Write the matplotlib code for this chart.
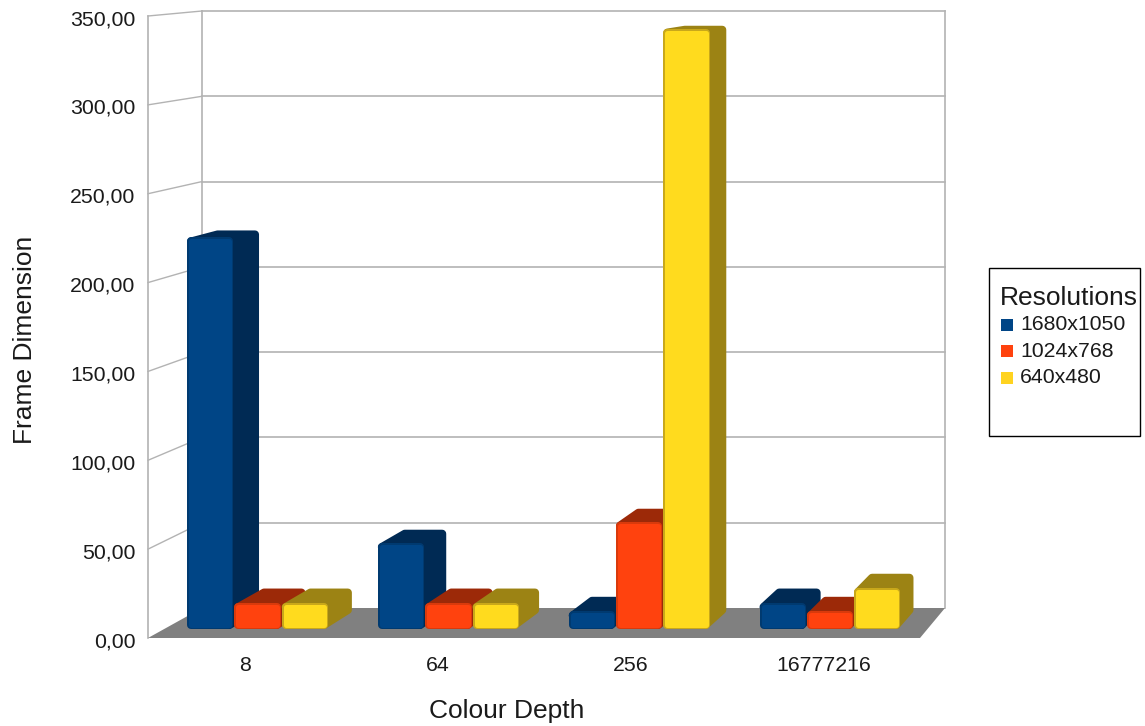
import numpy as np
from matplotlib import pyplot as plt
from matplotlib.patches import Polygon, Rectangle
from matplotlib.transforms import ScaledTranslation

plt.rcParams['font.family'] = ['Liberation Sans', 'DejaVu Sans']

categories = ['8', '64', '256', '16777216']
series_names = ['1680x1050', '1024x768', '640x480']
values_1680 = [223.0, 49.0, 10.0, 14.8]
values_1024 = [14.8, 14.8, 61.2, 10.0]
values_640 = [14.8, 14.8, 342.0, 23.4]
y_ticks = [0, 50, 100, 150, 200, 250, 300, 350]

front_colors = ['#004586', '#ff420e', '#ffdb1e']
legend_colors = ['#004586', '#ff420e', '#ffd320']
edge_colors = ['#003a70', '#d93a0c', '#c9a81a']
body_colors = ['#002a54', '#9c2908', '#9c8314']
grid_color = '#b3b3b3'
floor_color = '#808080'
text_color = '#1a1a1a'

W, H = 1145, 726
AX_LEFT, AX_RIGHT, AX_TOP, AX_BOTTOM = 148, 920, 16, 638
BAR_WIDTH = 0.248
GROUP_PAD = 0.117
DEPTH_FRONT, DEPTH_BACK = 0.3, 0.8
Y_MAX = 350.0
CORNER_PX = 4.0
PX_X = 4 / (AX_RIGHT - AX_LEFT)
PX_Y = Y_MAX / (AX_BOTTOM - AX_TOP)


def project(x, v, d):
    # oblique perspective: d=0 is the front plane of the box, d=1 the back wall
    px = 54 * d + x / 4 * (772 - 29 * d)
    py = 30 * d + v / Y_MAX * (622 - 25 * d)
    return px * PX_X, py * PX_Y


def rounded(ax, pts, color, lw_px, zorder):
    # a thick round-joined stroke around an inset outline gives the soft corners
    ax.add_patch(Polygon(pts, closed=True, facecolor=color, edgecolor=color, linewidth=lw_px * 0.72,
                         joinstyle='round', clip_on=False, zorder=zorder))


def draw_bar(ax, x0, value, i, zorder):
    x1 = x0 + BAR_WIDTH
    df, db = DEPTH_FRONT, DEPTH_BACK
    ix, iy = (CORNER_PX + 0.5) * PX_X, CORNER_PX * PX_Y

    # side and top share one dark silhouette
    hull = [project(x0, value, df), project(x0, value, db), project(x1, value, db), project(x1, 0, db),
            project(x1, 0, df)]
    signs = [(1, -1), (1, -1), (-1, -1), (-1, 1), (-1, 1)]
    hull = [(p[0] + s[0] * ix, p[1] + s[1] * iy) for p, s in zip(hull, signs)]
    rounded(ax, hull, body_colors[i], 2 * CORNER_PX, zorder)

    a = project(x0, 0, df)
    b = project(x1, value, df)
    front = [(a[0] + ix, a[1] + iy), (b[0] - ix, a[1] + iy), (b[0] - ix, b[1] - iy), (a[0] + ix, b[1] - iy)]
    rounded(ax, front, edge_colors[i], 2 * CORNER_PX, zorder + 0.01)
    rounded(ax, front, front_colors[i], 2 * CORNER_PX - 3, zorder + 0.02)


def draw_box(ax):
    # floor, back wall and side wall with their gridlines
    floor = [project(0, 0, 0), project(4, 0, 0), project(4, 0, 1), project(0, 0, 1)]
    ax.add_patch(Polygon(floor, closed=True, facecolor=floor_color, edgecolor='none', clip_on=False, zorder=1))
    for t in y_ticks:
        back_l, back_r = project(0, t, 1), project(4, t, 1)
        front_l = project(0, t, 0)
        if t > 0:
            ax.plot([back_l[0], back_r[0]], [back_l[1], back_r[1]], color=grid_color, lw=1.2, clip_on=False, zorder=0)
            ax.plot([front_l[0], back_l[0]], [front_l[1], back_l[1]], color=grid_color, lw=1.0, clip_on=False, zorder=0)
    for x, d in [(0, 0), (0, 1), (4, 1)]:
        a, b = project(x, 0, d), project(x, Y_MAX, d)
        ax.plot([a[0], b[0]], [a[1], b[1]], color=grid_color, lw=1.2, clip_on=False, zorder=0)


def draw_legend(fig):
    to_fig = lambda px, py: (px / W, 1 - py / H)
    x, y = to_fig(989, 436)
    fig.add_artist(Rectangle((x, y), 151 / W, 168 / H, transform=fig.transFigure, facecolor='white',
                             edgecolor='black', linewidth=1.0))
    fig.text(*to_fig(1000, 297.5), 'Resolutions', fontsize=19, va='center', ha='left', color=text_color)
    for i, name in enumerate(series_names):
        cy = 325 + i * 26.3
        x, y = to_fig(1001, cy + 6)
        fig.add_artist(Rectangle((x, y), 12 / W, 12 / H, transform=fig.transFigure, facecolor=legend_colors[i],
                                 edgecolor='none'))
        fig.text(*to_fig(1020, cy), name, fontsize=15.3, va='center', ha='left', color=text_color)


def main():
    fig = plt.figure(figsize=(W / 100, H / 100), dpi=100)
    ax = fig.add_axes([AX_LEFT / W, 1 - AX_BOTTOM / H, (AX_RIGHT - AX_LEFT) / W, (AX_BOTTOM - AX_TOP) / H])
    ax.set_xlim(0, 4)
    ax.set_ylim(0, Y_MAX)
    for side in ax.spines.values():
        side.set_visible(False)
    ax.patch.set_visible(False)

    draw_box(ax)

    all_values = [values_1680, values_1024, values_640]
    for c in range(len(categories)):
        for i, vals in enumerate(all_values):
            draw_bar(ax, c + GROUP_PAD + i * BAR_WIDTH, vals[c], i, 3 + c + i * 0.1)

    ax.set_yticks(y_ticks)
    ax.set_yticklabels(['%d,00' % t for t in y_ticks], fontsize=15.3, color=text_color)
    ax.set_xticks(np.arange(len(categories)) + 0.5)
    ax.set_xticklabels(categories, fontsize=15.3, color=text_color)
    ax.tick_params(axis='y', length=0, pad=9)
    ax.tick_params(axis='x', length=0, pad=13)
    shift = ScaledTranslation(0, -1.5 / 100, fig.dpi_scale_trans)
    for lbl in ax.get_yticklabels():
        lbl.set_transform(lbl.get_transform() + shift)
    fig.text(507 / W, 1 - 711 / H, 'Colour Depth', fontsize=19, ha='center', va='center', color=text_color)
    fig.text(25 / W, 1 - 340 / H, 'Frame Dimension', fontsize=19, ha='center', va='center', rotation=90,
             color=text_color)

    draw_legend(fig)
    fig.savefig('out.png', dpi=100)


if __name__ == '__main__':
    main()
